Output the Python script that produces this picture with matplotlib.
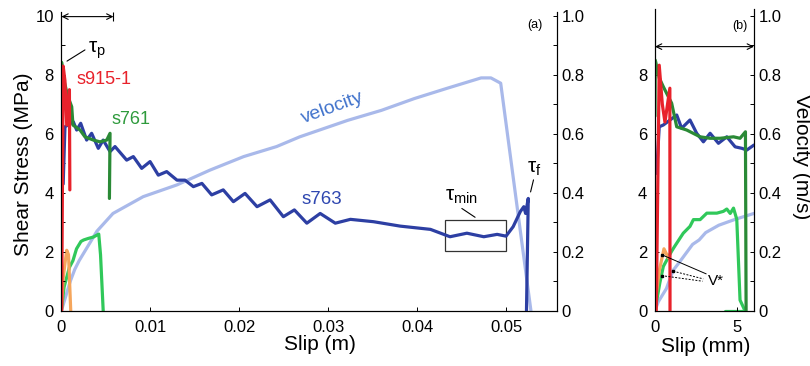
import matplotlib
matplotlib.use("Agg")
import matplotlib.pyplot as plt
from matplotlib.patches import Rectangle
from matplotlib.ticker import MultipleLocator

plt.rcParams['font.family'] = ['Liberation Sans', 'DejaVu Sans']
plt.rcParams['mathtext.fontset'] = 'custom'
plt.rcParams['mathtext.rm'] = 'Liberation Sans'
plt.rcParams['lines.solid_joinstyle'] = 'round'
plt.rcParams['lines.solid_capstyle'] = 'round'

# ---- panel (a): slip in m ----
a763_slip = [0.0002, 0.0004, 0.00134, 0.00172, 0.00217, 0.00284, 0.0034, 0.00415, 0.0047, 0.00547,
             0.00603, 0.00734, 0.00809, 0.00903, 0.00997, 0.0109, 0.01184, 0.013, 0.0139, 0.01484,
             0.0158, 0.0169, 0.0182, 0.01934, 0.02065, 0.022, 0.02347, 0.02496, 0.0262, 0.0276,
             0.0291, 0.0308, 0.0325, 0.0351, 0.0381, 0.0415, 0.0437, 0.0456, 0.0475, 0.049,
             0.05, 0.0508, 0.0516, 0.052, 0.0522, 0.0525, 0.0523]
a763_stress = [4.3, 6.24, 6.41, 6.13, 6.36, 5.79, 6.02, 5.51, 5.79, 5.4,
               5.57, 5.11, 5.23, 4.83, 5.06, 4.6, 4.72, 4.43, 4.43, 4.21,
               4.32, 3.93, 4.1, 3.7, 3.98, 3.53, 3.76, 3.19, 3.42, 2.97,
               3.3, 2.97, 3.1, 3.02, 2.87, 2.76, 2.51, 2.63, 2.51, 2.59,
               2.53, 2.85, 3.36, 3.53, 3.3, 3.81, 0.0]
a763_vslip = [0, 0.0005, 0.001, 0.0015, 0.002, 0.003, 0.004, 0.0058, 0.0092, 0.013, 0.0167,
              0.0205, 0.0242, 0.0268, 0.0322, 0.036, 0.0397, 0.0434, 0.0472, 0.0483, 0.0494, 0.0528]
a763_vel = [0, 0.05, 0.1, 0.14, 0.17, 0.22, 0.27, 0.33, 0.387, 0.427, 0.477,
            0.523, 0.557, 0.59, 0.646, 0.68, 0.72, 0.755, 0.79, 0.79, 0.772, 0.0]

a761_slip = [0, 0.00002, 0.0003, 0.0007, 0.00116, 0.0013, 0.0021, 0.00265, 0.0036, 0.00434, 0.0051,
             0.00547, 0.0054]
a761_stress = [4.2, 8.43, 7.8, 7.3, 6.92, 6.3, 6.13, 5.9, 5.79, 5.73, 5.79, 6.02, 3.81]
a761_vslip = [0, 0.0003, 0.0009, 0.0013, 0.0017, 0.0022, 0.0025, 0.003, 0.0036, 0.0042, 0.0044, 0.0047]
a761_vel = [0, 0.08, 0.147, 0.17, 0.21, 0.235, 0.24, 0.245, 0.25, 0.26, 0.19, 0.0]

a915_slip = [0.00003, 0.0002, 0.0004, 0.0006, 0.0009, 0.00095]
a915_stress = [0.0, 8.3, 7.8, 6.3, 7.5, 4.1]
a915_vslip = [0, 0.0002, 0.0004, 0.0006, 0.0008, 0.00105]
a915_vel = [0, 0.11, 0.16, 0.205, 0.19, 0.0]

# ---- panel (b): slip in mm ----
b763_slip = [0.1, 0.26, 0.51, 0.92, 1.33, 1.63, 2.14, 2.55, 2.96, 3.37, 3.88, 4.39, 4.9, 5.31, 5.61, 6.05]
b763_stress = [4.66, 6.24, 6.3, 6.47, 6.64, 6.19, 6.47, 6.02, 5.73, 6.02, 5.68, 5.9, 5.56, 5.51, 5.45, 5.62]
b763_vslip = [0, 0.2, 0.7, 1.1, 1.5, 1.9, 2.3, 2.7, 3.1, 3.9, 4.9, 6.05]
b763_vel = [0, 0.03, 0.075, 0.136, 0.165, 0.195, 0.225, 0.24, 0.265, 0.29, 0.31, 0.33]

b761_slip = [0, 0.02, 0.26, 0.51, 1.02, 1.33, 1.94, 2.76, 3.37, 3.98, 4.8, 5.2, 5.53, 5.57]
b761_stress = [6.6, 8.5, 7.9, 7.6, 7.04, 6.24, 6.13, 5.9, 5.85, 5.85, 5.9, 5.85, 6.07, 0.0]
b761_vslip = [0, 0.3, 0.51, 1.0, 1.2, 1.73, 2.14, 2.35, 2.76, 3.17, 3.78, 4.18, 4.39, 4.6, 4.8, 5.0, 5.2, 5.5]
b761_vel = [0, 0.095, 0.15, 0.2, 0.218, 0.263, 0.286, 0.309, 0.309, 0.331, 0.331, 0.337, 0.345, 0.33,
            0.348, 0.31, 0.036, 0.0]
b761_tail_slip = [4.3, 5.5]
b761_tail_vel = [0.0, 0.0]

b915_slip = [0.08, 0.26, 0.45, 0.61, 0.91, 0.92]
b915_stress = [0.0, 8.33, 7.0, 6.4, 7.55, 0.0]
b915_vslip = [0, 0.26, 0.55, 0.81]
b915_vel = [0.02, 0.135, 0.21, 0.18]

BLUE = '#2d3fa3'
LBLUE = '#a9b9ea'
RED = '#e8222b'
ORANGE = '#f5a65c'
DGREEN = '#2a8a36'
BGREEN = '#30c85a'
LW = 2.3

fig = plt.figure(figsize=(8.1, 3.66), dpi=100)
axa = fig.add_axes([0.0758, 0.1511, 0.6115, 0.8172])
axb = fig.add_axes([0.8086, 0.1511, 0.1222, 0.8254])


def style(ax, ax2):
    ax2.set_zorder(ax.get_zorder())
    ax.set_zorder(ax2.get_zorder() + 1)
    ax.patch.set_visible(False)
    for a in (ax, ax2):
        a.spines['top'].set_visible(False)
        for s in a.spines.values():
            s.set_linewidth(0.8)
    ax.tick_params(direction='in', length=3, width=0.7, labelsize=12)
    ax.tick_params(axis='x', pad=6.5)
    ax.tick_params(axis='y', pad=5.5)
    ax2.tick_params(direction='in', length=3, width=0.7, labelsize=12, pad=3.5)
    ax2.tick_params(which='minor', direction='in', length=3, width=0.7)
    ax2.yaxis.set_minor_locator(MultipleLocator(0.1))
    ax2.set_yticks([0, 0.2, 0.4, 0.6, 0.8, 1.0])
    ax2.set_yticklabels(['0', '0.2', '0.4', '0.6', '0.8', '1.0'])


# panel (a)
va = axa.twinx()
style(axa, va)
va.plot(a763_vslip, a763_vel, color=LBLUE, lw=LW)
va.plot(a761_vslip, a761_vel, color=BGREEN, lw=LW)
va.plot(a915_vslip, a915_vel, color=ORANGE, lw=LW)
axa.plot(a763_slip, a763_stress, color=BLUE, lw=LW)
axa.plot(a761_slip, a761_stress, color=DGREEN, lw=LW)
axa.plot(a915_slip, a915_stress, color=RED, lw=LW)
axa.set_xlim(0, 0.0557)
axa.set_ylim(0, 10.15)
va.set_ylim(0, 1.015)
axa.set_xticks([0, 0.01, 0.02, 0.03, 0.04, 0.05])
axa.set_xticklabels(['0', '0.01', '0.02', '0.03', '0.04', '0.05'])
axa.set_yticks([0, 2, 4, 6, 8, 10])
axa.yaxis.set_minor_locator(MultipleLocator(1))
axa.tick_params(which='minor', direction='in', length=3, width=0.7)
axa.xaxis.set_minor_locator(plt.NullLocator())

axa.annotate('', xy=(0, 9.98), xytext=(0.00585, 9.98),
             arrowprops=dict(arrowstyle='<->', lw=0.8, color='k', shrinkA=0, shrinkB=0,
                             mutation_scale=10))
axa.vlines(0.00585, 9.83, 10.12, color='k', lw=0.8)
axa.add_patch(Rectangle((0.0431, 2.04), 0.0069, 1.04, fill=False, lw=0.9, edgecolor='#333333'))

axa.text(0.00175, 7.86, 's915-1', color=RED, fontsize=13, ha='left', va='center')
axa.text(0.00558, 6.5, 's761', color='#2e9a3c', fontsize=13, ha='left', va='center')
axa.text(0.0305, 6.88, 'velocity', color='#4173cc', fontsize=14, ha='center', va='center',
         rotation=20, rotation_mode='anchor')
axa.text(0.0293, 3.79, 's763', color='#2f47b0', fontsize=13.5, ha='center', va='center')
axa.text(0.003, 8.78, 'τ$_\\mathrm{p}$', fontsize=15, ha='left', va='baseline')
axa.plot([0.00265, 0.00063], [8.85, 8.47], color='k', lw=0.8)
axa.text(0.0431, 3.75, 'τ$_\\mathrm{min}$', fontsize=15, ha='left', va='baseline')
axa.plot([0.04503, 0.04652], [3.47, 3.17], color='k', lw=0.8)
axa.text(0.05237, 4.71, 'τ$_\\mathrm{f}$', fontsize=15, ha='left', va='baseline')
axa.plot([0.05309, 0.05276], [4.44, 4.03], color='k', lw=0.8)
axa.text(0.0533, 9.7, '(a)', fontsize=9, ha='center', va='center')

# panel (b)
vb = axb.twinx()
style(axb, vb)
vb.plot(b763_vslip, b763_vel, color=LBLUE, lw=LW)
vb.plot(b761_vslip, b761_vel, color=BGREEN, lw=LW)
vb.plot(b761_tail_slip, b761_tail_vel, color=BGREEN, lw=LW)
vb.plot(b915_vslip, b915_vel, color=ORANGE, lw=LW)
axb.plot(b763_slip, b763_stress, color=BLUE, lw=LW)
axb.plot(b761_slip, b761_stress, color=DGREEN, lw=LW)
axb.plot(b915_slip, b915_stress, color=RED, lw=LW)
axb.set_xlim(0, 6.05)
axb.set_ylim(0, 10.25)
vb.set_ylim(0, 1.025)
axb.set_xticks([0, 5])
axb.set_yticks([0, 2, 4, 6, 8])

axb.annotate('', xy=(0, 8.96), xytext=(6.05, 8.96),
             arrowprops=dict(arrowstyle='<->', lw=0.8, color='k', shrinkA=0, shrinkB=0,
                             mutation_scale=10))
axb.text(5.18, 9.66, '(b)', fontsize=9, ha='center', va='center')
axb.plot([0.41, 3.13], [1.90, 1.25], color='k', lw=0.7)
axb.plot([1.12, 2.95], [1.34, 1.08], color='k', lw=0.7, ls=(0, (2, 1.5)))
axb.plot([0.41, 2.91], [1.19, 1.0], color='k', lw=0.7, ls=(0, (2, 1.5)))
axb.plot([0.41, 1.12, 0.41], [1.90, 1.34, 1.19], ls='none', marker='s', ms=2, color='k')
axb.text(3.23, 1.0, 'V*', fontsize=11, ha='left', va='center')

fig.text(23.5 / 810, 1 - 164 / 366, 'Shear Stress (MPa)', fontsize=15, rotation=90,
         ha='center', va='center')
fig.text(320 / 810, 1 - 345 / 366, 'Slip (m)', fontsize=15, ha='center', va='center')
fig.text(706 / 810, 1 - 346 / 366, 'Slip (mm)', fontsize=15, ha='center', va='center')
fig.text(802 / 810, 1 - 157 / 366, 'Velocity (m/s)', fontsize=15, rotation=270,
         ha='center', va='center')

fig.savefig('out.png', dpi=100)
